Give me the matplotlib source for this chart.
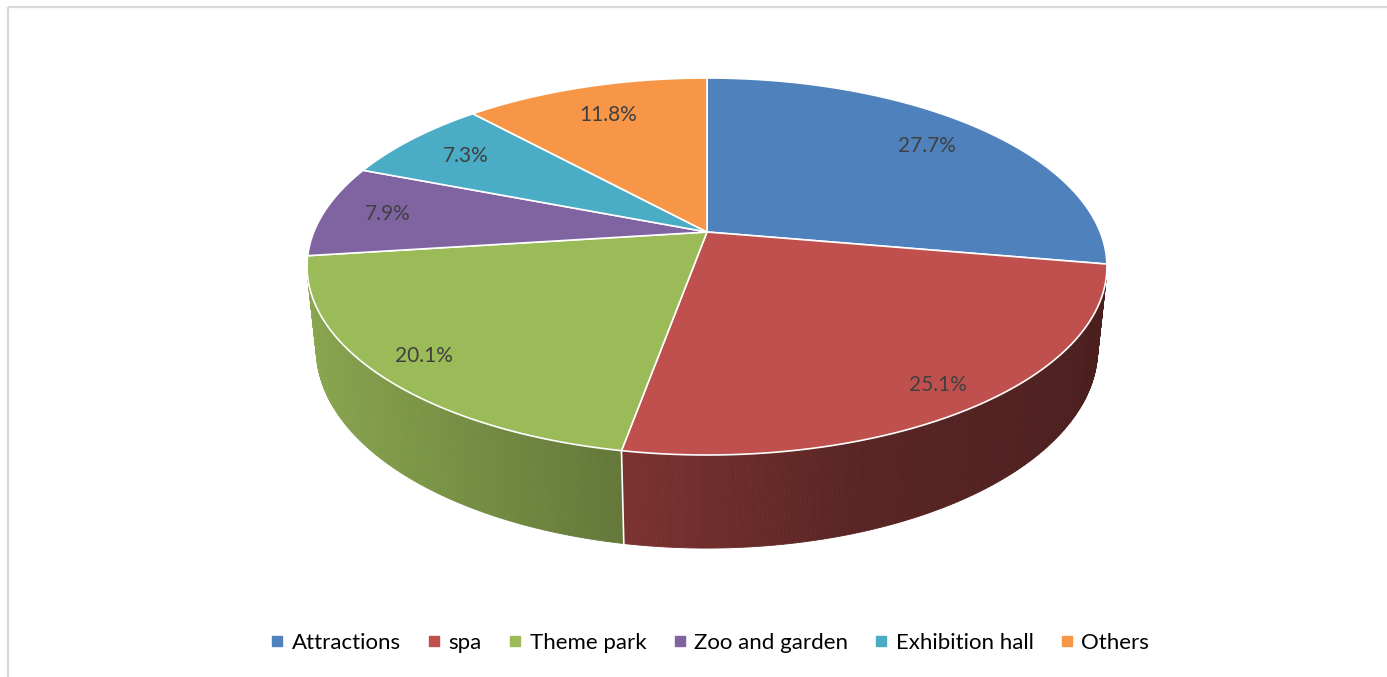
import numpy as np
import matplotlib.pyplot as plt
import matplotlib.colors as mcolors
from matplotlib.patches import Polygon, Rectangle
from matplotlib.collections import PolyCollection
from matplotlib.lines import Line2D

plt.rcParams['font.family'] = ['Lato', 'DejaVu Sans']

categories = ['Attractions', 'spa', 'Theme park', 'Zoo and garden', 'Exhibition hall', 'Others']
shares = [27.7, 25.1, 20.1, 7.9, 7.3, 11.8]
colors = ['#4F81BD', '#C0504D', '#9BBB59', '#8064A2', '#4BACC6', '#F79646']

W, H = 1387, 677

# tilted camera looking at a unit disc (pixel space of the figure)
cx, cy = 707, 232
tilt = np.radians(27.6)
dist = 4.84
focal = 1903
thick = 0.239
facing = 1.0 / (dist * np.cos(tilt))  # rim points with v above this face the camera


def project(u, v, y=0.0):
    d = dist - (y * np.sin(tilt) + v * np.cos(tilt))
    sx = cx + focal * u / d
    sy = cy - focal * (y * np.cos(tilt) - v * np.sin(tilt)) / d
    return sx, sy


def shade(u):
    # side wall lit from the left
    return np.interp(u, [-1, -0.6, -0.2, 0.3, 1], [0.9, 0.79, 0.65, 0.47, 0.38])


fig = plt.figure(figsize=(W / 100, H / 100), dpi=100)
ax = fig.add_axes([0, 0, 1, 1])
ax.set_xlim(0, W)
ax.set_ylim(H, 0)
ax.axis('off')

ax.add_patch(Rectangle((8, 7), W + 20, H + 20, fill=False, edgecolor='#d9d9d9', lw=1.6))

total = sum(shares)
bounds = np.concatenate([[0], np.cumsum(shares)]) / total * 2 * np.pi

# side walls, back to front
quads, qcols, keys = [], [], []
for i in range(len(shares)):
    phis = np.linspace(bounds[i], bounds[i + 1], max(int(np.degrees(bounds[i + 1] - bounds[i]) * 2), 2))
    base = np.array(mcolors.to_rgb(colors[i]))
    for a, b in zip(phis[:-1], phis[1:]):
        m = 0.5 * (a + b)
        if -np.cos(m) < facing - 0.02:
            continue
        pts = []
        for p in (a, b):
            pts.append(project(np.sin(p), -np.cos(p)))
        for p in (b, a):
            pts.append(project(np.sin(p), -np.cos(p), -thick))
        quads.append(pts)
        qcols.append(np.clip(base * shade(np.sin(m)), 0, 1))
        keys.append(-np.cos(m))
order = np.argsort(keys)
walls = PolyCollection([quads[k] for k in order], facecolors=[qcols[k] for k in order],
                       edgecolors=[qcols[k] for k in order], linewidths=0.6)
ax.add_collection(walls)

for p in bounds[:-1]:
    if -np.cos(p) > facing + 0.05:
        x0, y0 = project(np.sin(p), -np.cos(p))
        x1, y1 = project(np.sin(p), -np.cos(p), -thick)
        ax.plot([x0, x1], [y0, y1], color='white', lw=1.2)

# top faces
for i in range(len(shares)):
    phis = np.linspace(bounds[i], bounds[i + 1], 200)
    pts = [(cx, cy)] + [project(np.sin(p), -np.cos(p)) for p in phis]
    ax.add_patch(Polygon(pts, closed=True, facecolor=colors[i], edgecolor='white', lw=1.2))

# percentage labels
for i in range(len(shares)):
    m = 0.5 * (bounds[i] + bounds[i + 1])
    r = 0.84 - 0.06 * np.cos(m)
    lx, ly = project(r * np.sin(m), -r * np.cos(m))
    ax.text(lx, ly, '%.1f%%' % shares[i], ha='center', va='center', fontsize=15, color='#404040')

handles = [Line2D([], [], marker='s', ls='', color=c, markersize=6.5) for c in colors]
fig.legend(handles, categories, loc='center', bbox_to_anchor=(711 / W, 1 - 643 / H), ncol=6,
           frameon=False, fontsize=16, handlelength=0.4, handletextpad=0.45, columnspacing=1.3)

fig.savefig('out.png', dpi=100)
